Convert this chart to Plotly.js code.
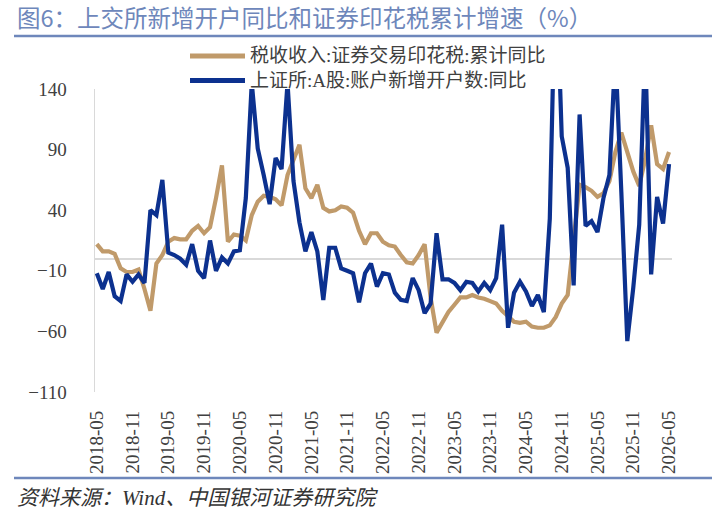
<!DOCTYPE html>
<html>
<head>
<meta charset="utf-8">
<script src="https://cdn.plot.ly/plotly-3.0.1.min.js"></script>
<style>
  body { margin: 0; background: #fff; }
  #chart { width: 722px; height: 520px; }
</style>
</head>
<body>
<div id="chart"></div>
<script>
// monthly categories 2018-05 .. 2026-05
var months = [];
for (var y = 2018, m = 5; months.length < 97; m++) {
    if (m > 12) { m = 1; y++; }
    months.push(y + '-' + (m < 10 ? '0' + m : m));
}

var tickLabels = ['2018-05', '2018-11', '2019-05', '2019-11', '2020-05', '2020-11',
    '2021-05', '2021-11', '2022-05', '2022-11', '2023-05', '2023-11',
    '2024-05', '2024-11', '2025-05', '2025-11', '2026-05'];

var seriesNames = ['税收收入:证券交易印花税:累计同比', '上证所:A股:账户新增开户数:同比'];
var seriesColors = ['#c09a6a', '#0c318f'];

// 税收收入:证券交易印花税:累计同比
var stampTax = [12, 6, 6, 4, -8, -11, -11, -9, -25, -43,
    -4, 3, 14, 17, 16, 16, 23, 27, 21, 26,
    50, 77, 14, 20, 19, 15, 36, 47, 52, 51,
    49, 44, 69, 82, 94, 58, 50, 61, 42, 39,
    40, 43, 42, 38, 23, 12, 21, 21, 14, 11,
    10, 3, -3, -4, 3, 12, -32, -61, -52, -44,
    -38, -32, -32, -30, -32, -33, -35, -37, -43, -47,
    -52, -53, -52, -56, -57, -57, -55, -48, -37, -30,
    15, 61, 59, 56, 51, 54, 64, 88, 104, 88,
    72, 60, 82, 110, 78, 74, 88];

// 上证所:A股:账户新增开户数:同比
var newAccounts = [-12, -25, -11, -31, -35, -13, -19, -13, -20, 40,
    36, 65, 5, 3, 0, -5, 12, -10, -16, 15,
    -10, 1, -4, 6, 7, 50, 145, 91, 69, 45,
    83, 74, 145, 64, 30, 6, 22, 6, -34, 9,
    9, -8, -10, -12, -36, -12, -4, -23, -12, -13,
    -28, -34, -35, -16, -26, -45, -37, 21, -17, -17,
    -20, -26, -19, -20, -27, -20, -26, -16, 28, -57,
    -28, -19, -27, -39, -30, -44, 33, 250, 101, 75,
    -22, 119, 27, 31, 22, 50, 69, 170, 55, -68,
    -24, 28, 175, -13, 51, 29, 78];

var serif = '"Liberation Serif", "Noto Sans CJK SC", serif';
var cjk = '"Noto Sans CJK SC", sans-serif';

// plot area in pixels: x 95..672, y 89..392
function px(x) { return (x - 95) / 577; }
function py(y) { return (392 - y) / 303; }

var data = [{
    x: months,
    y: stampTax,
    name: seriesNames[0],
    type: 'scatter',
    mode: 'lines',
    line: { color: seriesColors[0], width: 4.2 }
}, {
    x: months,
    y: newAccounts,
    name: seriesNames[1],
    type: 'scatter',
    mode: 'lines',
    line: { color: seriesColors[1], width: 4.2 }
}];

var shapes = [{
    type: 'line', xref: 'paper', yref: 'paper',
    x0: px(14), x1: px(712), y0: py(36), y1: py(36),
    line: { color: '#6e87bb', width: 2.5 }
}, {
    type: 'line', xref: 'paper', yref: 'paper',
    x0: px(14), x1: px(712), y0: py(478), y1: py(478),
    line: { color: '#6e87bb', width: 2.5 }
}];

var annotations = [{
    text: '图6：上交所新增开户同比和证券印花税累计增速（%）',
    xref: 'paper', yref: 'paper',
    x: px(15), xanchor: 'left',
    y: py(17), yanchor: 'middle',
    showarrow: false,
    font: { family: cjk, size: 23.5, color: '#6e87bb' }
}, {
    text: '资料来源：Wind、中国银河证券研究院',
    xref: 'paper', yref: 'paper',
    x: px(15), xanchor: 'left',
    y: py(498), yanchor: 'middle',
    showarrow: false,
    font: { family: serif, size: 21, color: '#333333', style: 'italic' }
}];

// legend: long line samples like the original
var legendRows = [56, 80.5];
for (var i = 0; i < seriesNames.length; i++) {
    shapes.push({
        type: 'line', xref: 'paper', yref: 'paper',
        x0: px(190), x1: px(245), y0: py(legendRows[i]), y1: py(legendRows[i]),
        line: { color: seriesColors[i], width: 5 }
    });
    annotations.push({
        text: seriesNames[i],
        xref: 'paper', yref: 'paper',
        x: px(248), xanchor: 'left',
        y: py(legendRows[i]), yanchor: 'middle',
        showarrow: false,
        font: { family: serif, size: 19, color: '#404040' }
    });
}

var layout = {
    width: 722,
    height: 520,
    margin: { l: 95, r: 50, t: 89, b: 128 },
    paper_bgcolor: '#fff',
    plot_bgcolor: '#fff',
    showlegend: false,
    xaxis: {
        type: 'category',
        range: [-0.3, 96.5],
        tickmode: 'array',
        tickvals: tickLabels,
        ticktext: tickLabels,
        tickangle: -90,
        ticks: '',
        ticklabelstandoff: 14,
        tickfont: { family: serif, size: 19, color: '#404040' },
        showgrid: false,
        showline: false,
        zeroline: false
    },
    yaxis: {
        range: [-110, 140],
        tickvals: [-110, -60, -10, 40, 90, 140],
        ticks: '',
        ticklabelstandoff: 23,
        tickfont: { family: serif, size: 19, color: '#404040' },
        showgrid: false,
        showline: true,
        linecolor: '#d9d9d9',
        linewidth: 1.5,
        zeroline: true,
        zerolinecolor: '#d9d9d9',
        zerolinewidth: 2
    },
    shapes: shapes,
    annotations: annotations
};

var config = { displayModeBar: false, displaylogo: false, staticPlot: true };

Plotly.newPlot('chart', data, layout, config);
</script>
</body>
</html>
